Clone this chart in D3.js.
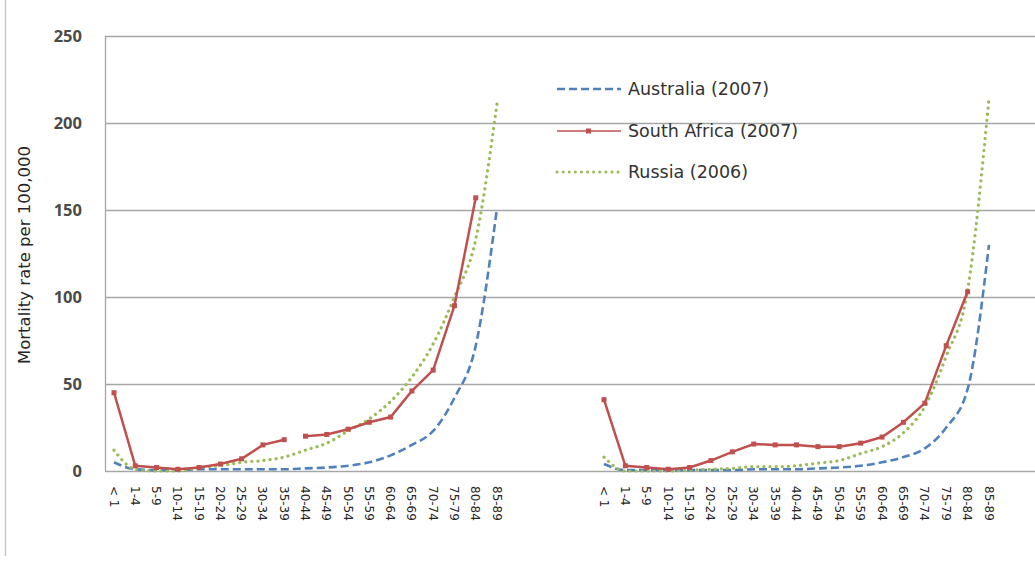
<!DOCTYPE html>
<html>
<head>
<meta charset="utf-8">
<script src="https://cdn.jsdelivr.net/npm/d3@7"></script>
<style>
  body { margin: 0; background: #fff; }
  svg { display: block; font-family: "DejaVu Sans", sans-serif; }
</style>
</head>
<body>
<div id="chart"></div>
<script>
const ageGroups = ["< 1", "1-4", "5-9", "10-14", "15-19", "20-24", "25-29", "30-34", "35-39",
  "40-44", "45-49", "50-54", "55-59", "60-64", "65-69", "70-74", "75-79", "80-84", "85-89"];
const yTicks = [0, 50, 100, 150, 200, 250];

// left panel
const australiaLeft = [5, 1, 0.5, 0.5, 1, 1, 1, 1, 1, 1.5, 2, 3, 5, 9, 15, 23, 42, 72, 151];
const southAfricaLeft = [45, 3, 2, 1, 2, 4, 7, 15, 18, 20, 21, 24, 28, 31, 46, 58, 95, 157, null];
const russiaLeft = [12, 1, 0, 0, 2, 3, 5, 6, 8, 12, 16, 23, 30, 40, 54, 73, 100, 133, 211];
const southAfricaLeftBreak = "35-39"; // segment missing after this group

// right panel
const australiaRight = [4, 0.5, 0.5, 0.5, 0.5, 0.5, 0.5, 1, 1, 1, 1.5, 2, 3, 5, 8, 13, 25, 47, 130];
const southAfricaRight = [41, 3, 2, 1, 2, 6, 11, 15.5, 15, 15, 14, 14, 16, 19.5, 28, 39, 72, 103, null];
const russiaRight = [8, 0, 0, 0, 0.5, 1, 1.5, 2.5, 2.5, 3, 4.5, 6, 10, 14, 22, 37, 66, 104, 214];

const legendItems = ["Australia (2007)", "South Africa (2007)", "Russia (2006)"];

const width = 1035, height = 561;
const colors = { aus: "#4f81bd", sa: "#c0504d", rus: "#9bbb59" };

const svg = d3.select("#chart").append("svg")
  .attr("width", width)
  .attr("height", height);

// outer left border of the picture
svg.append("line")
  .attr("x1", 5.5).attr("x2", 5.5)
  .attr("y1", 0).attr("y2", 556)
  .attr("stroke", "#c8c8c8").attr("stroke-width", 1.5);

const y = d3.scaleLinear().domain([0, 250]).range([471, 36]);
const xLeft = d3.scalePoint().domain(ageGroups).range([114, 497]);
const xRight = d3.scalePoint().domain(ageGroups).range([604, 989]);

// gridlines
svg.append("g")
  .selectAll("line")
  .data(yTicks)
  .enter().append("line")
  .attr("x1", 105).attr("x2", width)
  .attr("y1", (d) => Math.round(y(d)) + 0.5)
  .attr("y2", (d) => Math.round(y(d)) + 0.5)
  .attr("stroke", "#a6a6a6")
  .attr("stroke-width", 1.3);

svg.append("line")
  .attr("x1", 105.5).attr("x2", 105.5)
  .attr("y1", y(250)).attr("y2", y(0))
  .attr("stroke", "#a6a6a6").attr("stroke-width", 1.3);

// y tick labels
svg.append("g")
  .selectAll("text")
  .data(yTicks)
  .enter().append("text")
  .attr("x", 82)
  .attr("y", (d) => y(d) + 6)
  .attr("text-anchor", "end")
  .attr("font-family", "'Noto Sans', sans-serif")
  .attr("font-size", 16.5)
  .attr("font-weight", "bold")
  .attr("fill", "#4a4a4a")
  .text((d) => d);

svg.append("text")
  .attr("transform", "translate(30,255) rotate(-90)")
  .attr("text-anchor", "middle")
  .attr("font-size", 16.5)
  .attr("fill", "#262626")
  .text("Mortality rate per 100,000");

// x labels
function drawXLabels(x) {
  svg.append("g")
    .selectAll("text")
    .data(ageGroups)
    .enter().append("text")
    .attr("transform", (d) => `translate(${x(d) - 4.5},486) rotate(90)`)
    .attr("font-size", 12)
    .attr("fill", "#262626")
    .text((d) => d);
}
drawXLabels(xLeft);
drawXLabels(xRight);

function toPoints(values) {
  return ageGroups.map((g, i) => ({ g: g, v: values[i] }));
}

function drawSmooth(values, x, color, dash, w) {
  const line = d3.line()
    .defined((d) => d.v != null)
    .x((d) => x(d.g))
    .y((d) => y(d.v))
    .curve(d3.curveMonotoneX);
  svg.append("path")
    .datum(toPoints(values))
    .attr("d", line)
    .attr("fill", "none")
    .attr("stroke", color)
    .attr("stroke-width", w)
    .attr("stroke-dasharray", dash)
    .attr("stroke-linecap", dash === "0.1,6" ? "round" : "butt");
}

function drawMarked(values, x, color, breakAfter) {
  const pts = toPoints(values).filter((d) => d.v != null);
  const line = d3.line().x((d) => x(d.g)).y((d) => y(d.v));
  let segs = [pts];
  if (breakAfter) {
    const k = pts.findIndex((d) => d.g === breakAfter);
    segs = [pts.slice(0, k + 1), pts.slice(k + 1)];
  }
  segs.forEach((s) => {
    svg.append("path")
      .attr("d", line(s))
      .attr("fill", "none")
      .attr("stroke", color)
      .attr("stroke-width", 2.5);
  });
  svg.append("g")
    .selectAll("rect")
    .data(pts)
    .enter().append("rect")
    .attr("x", (d) => x(d.g) - 2.5)
    .attr("y", (d) => y(d.v) - 2.5)
    .attr("width", 5)
    .attr("height", 5)
    .attr("fill", color);
}

drawSmooth(australiaLeft, xLeft, colors.aus, "8,4", 2.6);
drawSmooth(russiaLeft, xLeft, colors.rus, "0.1,6", 3.2);
drawMarked(southAfricaLeft, xLeft, colors.sa, southAfricaLeftBreak);

drawSmooth(australiaRight, xRight, colors.aus, "8,4", 2.6);
drawSmooth(russiaRight, xRight, colors.rus, "0.1,6", 3.2);
drawMarked(southAfricaRight, xRight, colors.sa, null);

// legend
const legend = svg.append("g");
const legendY = [89, 131, 172];
const legendStyle = [
  { c: colors.aus, dash: "8,4", w: 2.6, cap: "butt" },
  { c: colors.sa, dash: null, w: 1.5, cap: "butt" },
  { c: colors.rus, dash: "0.1,6", w: 3, cap: "round" },
];
legendItems.forEach((name, i) => {
  const s = legendStyle[i];
  legend.append("line")
    .attr("x1", 557).attr("x2", 621)
    .attr("y1", legendY[i]).attr("y2", legendY[i])
    .attr("stroke", s.c)
    .attr("stroke-width", s.w)
    .attr("stroke-dasharray", s.dash)
    .attr("stroke-linecap", s.cap);
  if (i === 1) {
    legend.append("rect")
      .attr("x", 586).attr("y", legendY[i] - 2.5)
      .attr("width", 5).attr("height", 5)
      .attr("fill", s.c);
  }
  legend.append("text")
    .attr("x", 628)
    .attr("y", legendY[i] + 6)
    .attr("font-size", 17.5)
    .attr("fill", "#333")
    .text(name);
});
</script>
</body>
</html>
